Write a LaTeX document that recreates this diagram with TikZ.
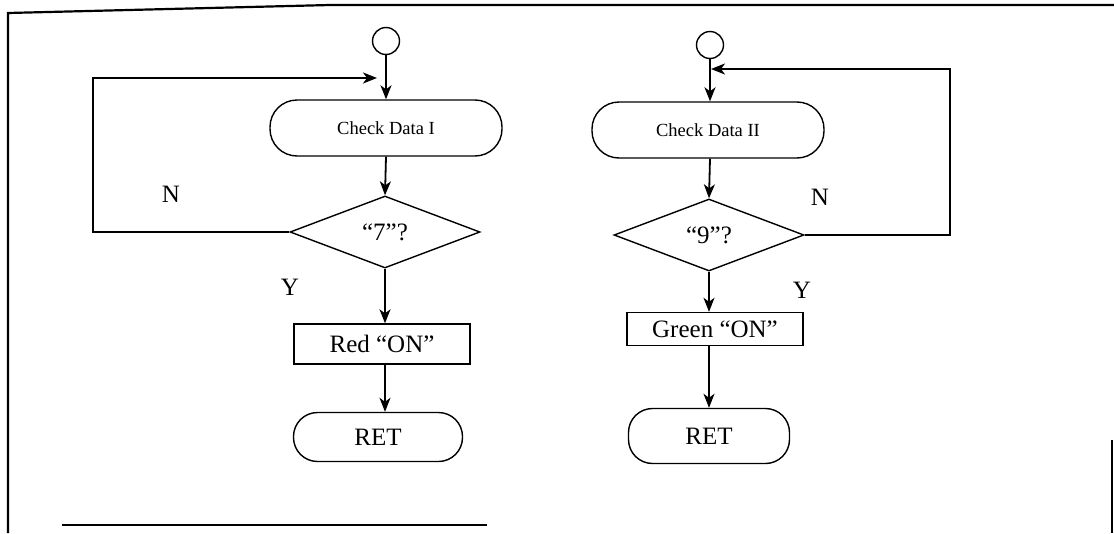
\documentclass[tikz,border=0pt]{standalone}
\usepackage{fontspec}
\setmainfont{Liberation Serif}
\usetikzlibrary{shapes,arrows.meta,positioning}

\tikzset{
  flow/.style={-{Stealth[length=14pt,width=11pt,inset=4pt]}, line width=1.8pt},
  ends/.style={draw, circle, line width=1.4pt, minimum size=27pt, inner sep=0pt},
  term/.style={draw, line width=1.4pt, rounded corners=24pt, minimum width=169pt, minimum height=49pt, inner sep=0pt, font=\fontsize{25}{28}\selectfont},
  chk/.style={term, rounded corners=27pt, minimum width=232pt, minimum height=56pt, font=\fontsize{18.5}{20}\selectfont},
  cond/.style={draw, diamond, line width=1.4pt, inner sep=0pt, minimum width=190pt, minimum height=72pt, font=\fontsize{25}{28}\selectfont},
  proc/.style={draw, rectangle, line width=1.4pt, inner sep=0pt, minimum width=176pt, minimum height=40pt, font=\fontsize{25}{28}\selectfont},
  lbl/.style={font=\fontsize{25}{28}\selectfont}
}

\begin{document}
\begin{tikzpicture}[x=1pt, y=-1pt]
    \useasboundingbox (0,0) rectangle (1114,533);

    % frame
    \draw[line width=2.2pt] (1114,5) -- (330,5) -- (8,13) -- (8,533);
    \draw[line width=1.4pt] (62,525) -- (487,525);
    \draw[line width=1.6pt] (1112,440) -- (1112,533);

    % left routine
    \node [ends] (S1) at (386,41) {};
    \node [chk]  (C1) at (386,128) {Check Data I};
    \node [cond] (D1) at (385,232) {“7”?};
    \node [proc] (P1) at (382,344) {Red “ON”};
    \node [term] (R1) at (378,437) {RET};
    \coordinate (J1) at (377,78);
    \coordinate (L1) at (93,150);

    \draw[flow] (S1.south) -- (S1.south |- C1.north);
    \draw[flow] (S1.south |- C1.south) -- (D1.north);
    \draw[flow] (D1.south) -- (D1.south |- P1.north);
    \draw[flow] (D1.south |- P1.south) -- (D1.south |- R1.north);
    \draw[flow] (D1.west) -| (L1) |- (J1);

    \node [lbl] (N1) at (171,194) {N};
    \node [lbl] (Y1) at (290,287) {Y};

    % right routine
    \node [ends] (S2) at (710,45) {};
    \node [chk]  (C2) at (708,130) {Check Data II};
    \node [cond] (D2) at (709,235) {“9”?};
    \node [proc, minimum height=33pt] (P2) at (715,329) {Green “ON”};
    \node [term, minimum width=161pt, minimum height=55pt] (R2) at (709,436) {RET};
    \coordinate (J2) at (711,69);
    \coordinate (L2) at (950,150);

    \draw[flow] (S2.south) -- (S2.south |- C2.north);
    \draw[flow] (S2.south |- C2.south) -- (D2.north);
    \draw[flow] (D2.south) -- (D2.south |- P2.north);
    \draw[flow] (D2.south |- P2.south) -- (D2.south |- R2.north);
    \draw[flow] (D2.east) -| (L2) |- (J2);

    \node [lbl] (N2) at (820,197) {N};
    \node [lbl] (Y2) at (802,290) {Y};
\end{tikzpicture}
\end{document}
